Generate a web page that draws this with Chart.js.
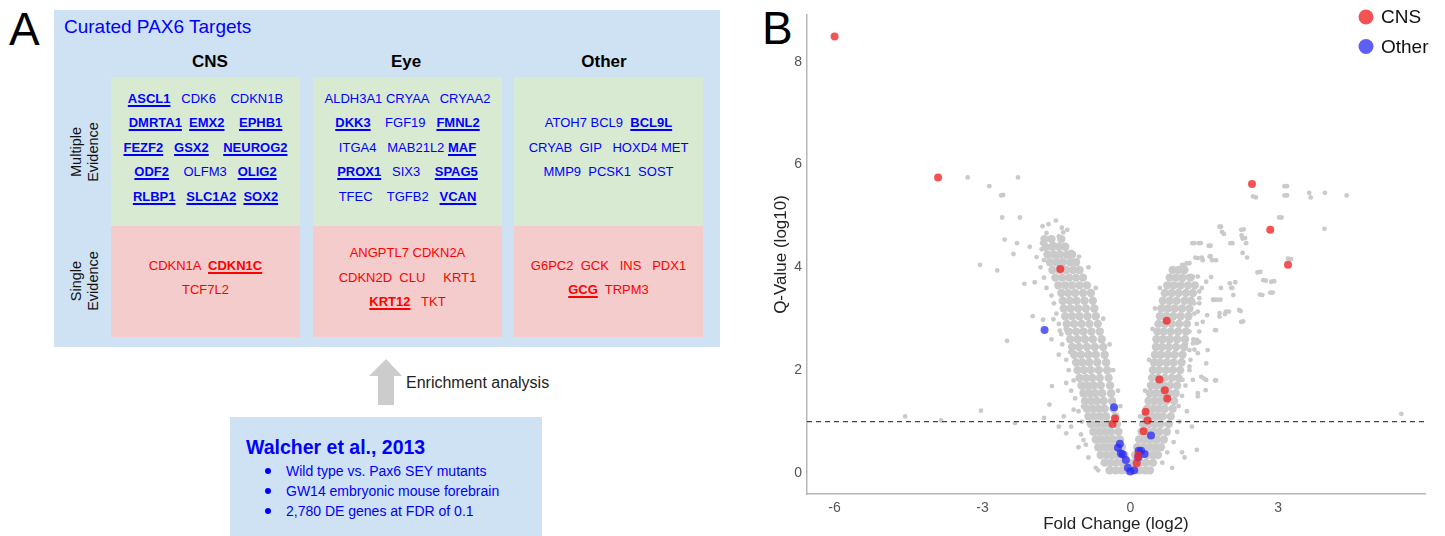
<!DOCTYPE html>
<html>
<head>
<meta charset="utf-8">
<script src="https://cdn.jsdelivr.net/npm/chart.js@4.4.1/dist/chart.umd.min.js"></script>
<style>
body { margin: 0; width: 1445px; height: 536px; position: relative; overflow: hidden; background: #fff;
       font-family: "Liberation Sans", Arial, sans-serif; }
.abs { position: absolute; }
.letter { font-size: 46px; line-height: 50px; color: #000; }
.blue { color: #0000ff; }
.red { color: #ff0000; }
.head { font-weight: bold; font-size: 17px; line-height: 20px; top: 52px; width: 120px; text-align: center; color: #000; }
.cell { display: flex; flex-direction: column; justify-content: center; align-items: center;
        box-sizing: border-box; padding-bottom: 7px; width: 189px; }
.cell div { font-size: 13px; line-height: 24.4px; white-space: pre; }
.cell b { text-decoration: underline; text-decoration-thickness: 1.5px; text-underline-offset: 2px; }
.green { background: #d9ead3; top: 77px; height: 149px; }
.pink { background: #f4cccc; top: 226px; height: 111px; }
.rowlab { font-size: 14.5px; line-height: 17px; text-align: center; color: #111; white-space: nowrap;
          transform: translate(-50%, -50%) rotate(-90deg); }
.bullet { left: 265px; width: 6px; height: 6px; border-radius: 50%; background: #0000ff; }
.btext { left: 286px; font-size: 14px; line-height: 18px; color: #0000ff; white-space: nowrap; }
</style>
</head>
<body>

<div class="abs letter" style="left:9px;top:4px;">A</div>
<div class="abs letter" style="left:762px;top:3px;">B</div>

<!-- panel A: curated targets -->
<div class="abs" style="left:54px;top:10px;width:666px;height:337px;background:#cfe2f3;"></div>
<div class="abs blue" style="left:64px;top:16px;font-size:19px;line-height:22px;">Curated PAX6 Targets</div>

<div class="abs head" style="left:150px;">CNS</div>
<div class="abs head" style="left:346px;">Eye</div>
<div class="abs head" style="left:544px;">Other</div>

<div class="abs rowlab" style="left:85px;top:152px;">Multiple<br>Evidence</div>
<div class="abs rowlab" style="left:85px;top:281px;">Single<br>Evidence</div>

<div id="cells"></div>

<svg class="abs" style="left:0;top:0;" width="720" height="536">
  <polygon points="386,359 369,376 378,376 378,405 394,405 394,376 402,376" fill="#cccccc"/>
</svg>
<div class="abs" style="left:406px;top:373px;font-size:16px;line-height:20px;color:#222;">Enrichment analysis</div>

<div class="abs" style="left:230px;top:417px;width:312px;height:119px;background:#cfe2f3;"></div>
<div class="abs blue" style="left:246px;top:435px;font-size:19.5px;line-height:24px;font-weight:bold;">Walcher et al., 2013</div>
<div id="bullets"></div>

<!-- panel B: volcano plot -->
<canvas id="volcano" class="abs" style="left:760px;top:0;" width="685" height="536"></canvas>

<script>
// ---- panel A text ----
// **word** = bold + underlined
const cnsMultiple = ["**ASCL1**   CDK6    CDKN1B", "**DMRTA1**  **EMX2**    **EPHB1**", "**FEZF2**   **GSX2**    **NEUROG2**",
                     "**ODF2**    OLFM3   **OLIG2**", "**RLBP1**   **SLC1A2**  **SOX2**"];
const eyeMultiple = ["ALDH3A1 CRYAA   CRYAA2", "**DKK3**    FGF19   **FMNL2**", "ITGA4   MAB21L2 **MAF**",
                     "**PROX1**   SIX3    **SPAG5**", "TFEC    TGFB2   **VCAN**"];
const otherMultiple = ["ATOH7 BCL9  **BCL9L**", "CRYAB  GIP   HOXD4 MET", "MMP9  PCSK1  SOST"];
const cnsSingle = ["CDKN1A  **CDKN1C**", "TCF7L2"];
const eyeSingle = ["ANGPTL7 CDKN2A", "CDKN2D  CLU     KRT1", "**KRT12**   TKT"];
const otherSingle = ["G6PC2  GCK   INS   PDX1", "**GCG**  TRPM3"];
const studyNotes = ["Wild type vs. Pax6 SEY mutants", "GW14 embryonic mouse forebrain", "2,780 DE genes at FDR of 0.1"];

// ---- panel B values ----
const xTicks = [-6, -3, 0, 3];
const yTicks = [0, 2, 4, 6, 8];
const qCutoff = 1;

const cnsGenes = [[-6.0, 8.49], [-3.9, 5.75], [-1.42, 3.97], [2.47, 5.62], [2.84, 4.73], [3.2, 4.05],
  [0.74, 2.96], [0.59, 1.82], [0.70, 1.61], [0.75, 1.45], [0.31, 1.19], [0.35, 1.02], [0.27, 0.81],
  [-0.31, 1.06], [-0.36, 0.95], [0.16, 0.34], [0.13, 0.19]];

const otherGenes = [[-1.74, 2.78], [-0.33, 1.28], [0.42, 0.73], [-0.21, 0.57], [-0.25, 0.49], [-0.19, 0.38],
  [-0.15, 0.36], [-0.09, 0.25], [-0.05, 0.10], [0.0, 0.03], [0.08, 0.05], [0.17, 0.43], [0.22, 0.43],
  [0.29, 0.37], [0.16, 0.30]];

// dense V of all genes, one row per q-value level: [q, [fold changes]]
const coreRows = [
  [0.05, [-0.42, -0.3, -0.18, -0.06, 0.06, 0.18, 0.3, 0.4]],
  [0.2, [-0.52, -0.4, -0.28, -0.16, -0.04, 0.08, 0.2, 0.32, 0.46]],
  [0.35, [-0.6, -0.48, -0.36, -0.24, -0.12, 0.1, 0.22, 0.34, 0.46, 0.56]],
  [0.5, [-0.65, -0.53, -0.41, -0.29, -0.17, 0.14, 0.26, 0.38, 0.5, 0.62]],
  [0.65, [-0.7, -0.58, -0.46, -0.34, -0.21, 0.18, 0.3, 0.42, 0.54, 0.68]],
  [0.8, [-0.75, -0.63, -0.51, -0.39, -0.24, 0.23, 0.35, 0.47, 0.59, 0.74]],
  [0.95, [-0.8, -0.68, -0.56, -0.44, -0.27, 0.26, 0.38, 0.5, 0.62, 0.78]],
  [1.1, [-0.85, -0.73, -0.61, -0.49, -0.3, 0.3, 0.42, 0.54, 0.66, 0.82]],
  [1.25, [-0.88, -0.76, -0.64, -0.52, -0.34, 0.34, 0.46, 0.58, 0.7, 0.86]],
  [1.4, [-0.92, -0.8, -0.68, -0.54, -0.37, 0.37, 0.49, 0.61, 0.73, 0.89]],
  [1.55, [-0.95, -0.83, -0.71, -0.57, -0.39, 0.4, 0.52, 0.64, 0.78, 0.92]],
  [1.7, [-0.99, -0.87, -0.74, -0.6, -0.41, 0.42, 0.54, 0.66, 0.8, 0.95]],
  [1.85, [-1.03, -0.9, -0.77, -0.62, -0.44, 0.44, 0.56, 0.7, 0.84, 0.98]],
  [2.0, [-1.07, -0.94, -0.8, -0.64, -0.47, 0.46, 0.58, 0.72, 0.86, 1.01]],
  [2.15, [-1.1, -0.97, -0.83, -0.67, -0.49, 0.48, 0.6, 0.74, 0.88, 1.04]],
  [2.3, [-1.14, -1.0, -0.85, -0.7, -0.52, 0.5, 0.62, 0.76, 0.9, 1.06]],
  [2.45, [-1.18, -1.04, -0.88, -0.72, -0.55, 0.52, 0.64, 0.78, 0.93, 1.09]],
  [2.6, [-1.22, -1.07, -0.92, -0.76, -0.58, 0.53, 0.66, 0.8, 0.95, 1.11]],
  [2.75, [-1.25, -1.1, -0.95, -0.79, -0.62, 0.55, 0.68, 0.82, 0.97, 1.13]],
  [2.9, [-1.29, -1.14, -0.99, -0.83, -0.66, 0.57, 0.7, 0.84, 0.99, 1.15]],
  [3.05, [-1.32, -1.18, -1.03, -0.87, -0.7, 0.6, 0.73, 0.87, 1.02, 1.18]],
  [3.2, [-1.35, -1.21, -1.06, -0.9, -0.73, 0.63, 0.76, 0.9, 1.05, 1.2]],
  [3.35, [-1.37, -1.23, -1.09, -0.93, -0.76, 0.66, 0.8, 0.94, 1.1, 1.23]],
  [3.5, [-1.4, -1.26, -1.12, -0.96, -0.8, 0.7, 0.84, 0.98, 1.13, 1.27]],
  [3.65, [-1.46, -1.32, -1.18, -1.03, -0.88, 0.75, 0.88, 1.02, 1.17, 1.31]],
  [3.8, [-1.52, -1.38, -1.24, -1.1, -0.96, 0.8, 0.93, 1.06, 1.22]],
  [3.95, [-1.58, -1.44, -1.3, -1.16, -1.03, 0.86, 0.98, 1.1]],
  [4.1, [-1.63, -1.5, -1.37, -1.22, -1.1]],
  [4.25, [-1.68, -1.55, -1.42, -1.28, -1.18]],
  [4.4, [-1.72, -1.58, -1.45, -1.32]],
  [4.55, [-1.74, -1.6, -1.4]]
];

// sparser genes around and away from the V
const scatterGenes = [
  [-0.85, 0.3], [-0.9, 0.55], [-1.0, 0.75], [-0.98, 1.0], [-1.05, 1.2], [-1.12, 1.45], [-1.2, 1.6], [-1.15, 1.8],
  [-1.25, 2.0], [-1.3, 2.2], [-1.22, 2.35], [-1.38, 2.5], [-1.4, 2.7], [-1.45, 2.9], [-1.5, 3.1], [-1.55, 3.3],
  [-1.6, 3.45], [-1.7, 3.6], [-1.75, 3.8], [-1.82, 4.0], [-1.9, 4.2], [-1.8, 4.35], [-1.05, 0.5], [-0.7, 0.1],
  [-0.65, 0.05], [-1.2, 0.9], [-1.35, 1.1], [-1.3, 1.75], [-1.45, 2.3], [-1.6, 2.6],
  [-0.2, 1.3], [-0.25, 1.6], [-0.35, 2.0], [-0.42, 2.5], [-0.55, 3.0], [-0.7, 3.6], [-0.85, 4.0],
  [0.3, 1.6], [0.38, 2.2], [0.45, 2.8], [0.5, 3.2], [0.6, 3.6], [0.2, 1.1],
  [0.65, 0.2], [0.75, 0.4], [0.88, 0.6], [0.95, 0.8], [1.0, 1.0], [0.98, 1.3], [1.05, 1.5], [1.12, 1.7],
  [1.2, 2.0], [1.22, 2.2], [1.3, 2.4], [1.28, 2.6], [1.35, 2.9], [1.3, 3.1], [1.4, 3.4], [1.45, 3.6],
  [0.85, 0.1], [1.15, 1.2], [1.1, 0.3], [1.25, 0.9],
  [-3.3, 5.75], [-2.28, 5.75], [-2.86, 5.58], [-2.62, 5.4], [-2.58, 5.41], [-2.6, 4.97], [-2.24, 4.97],
  [-2.55, 4.54], [-2.3, 4.47], [-2.04, 4.4], [-2.37, 4.26], [-3.05, 4.05], [-2.7, 3.94],
  [-1.78, 4.8], [-1.66, 4.84], [-1.51, 4.91], [-1.39, 4.77], [-1.28, 4.73], [-1.7, 4.67], [-1.79, 4.47],
  [-1.66, 4.38], [-1.39, 4.53], [-1.31, 4.4], [-1.48, 4.21], [-1.31, 4.21], [-1.04, 4.21], [-1.08, 4.08],
  [-1.75, 4.14], [-1.36, 4.68], [-1.2, 4.3], [-1.55, 4.45], [-1.45, 4.6],
  [-2.15, 3.68], [-1.94, 3.71], [-1.98, 3.05], [-1.77, 2.98], [-1.56, 2.99], [-1.43, 2.77], [-1.31, 2.8],
  [-2.5, 2.57], [-1.59, 1.69], [-1.64, 1.33], [-3.03, 1.21], [-4.57, 1.1], [-3.84, 1.02], [-2.34, 0.97],
  [-1.75, 1.07], [-1.15, 1.23], [-1.45, 0.9], [-0.95, 0.64], [-1.3, 0.77], [-0.96, 1.29], [-0.84, 1.61],
  [-0.64, 0.8], [-0.5, 0.19], [-0.41, 0.12],
  [1.3, 4.47], [1.43, 4.47], [1.63, 4.42], [1.84, 4.79], [1.9, 4.65], [2.3, 4.74], [2.33, 4.57], [2.35, 4.47],
  [2.07, 4.47], [2.37, 4.19], [2.55, 5.36], [3.18, 5.58], [3.18, 5.4], [3.07, 4.97], [3.26, 4.16], [2.64, 3.91],
  [2.75, 3.74], [2.92, 3.73], [2.68, 3.46], [2.89, 3.51], [2.29, 2.95], [2.24, 3.15], [2.13, 3.71], [2.09, 3.46],
  [2.07, 3.6], [1.84, 3.6], [1.83, 3.37], [1.71, 3.37], [2.0, 3.14], [1.92, 3.09], [1.81, 3.04], [1.74, 2.78],
  [1.47, 2.94], [1.4, 3.3], [1.3, 3.3], [1.4, 3.53], [1.54, 3.72], [1.64, 3.81], [1.47, 4.14], [1.61, 4.21],
  [1.74, 4.14], [1.37, 4.18], [1.2, 4.08], [1.1, 4.05], [1.37, 3.82], [1.27, 3.82], [1.17, 3.82], [1.06, 3.75],
  [1.4, 2.75], [1.2, 2.75], [1.13, 2.52], [1.27, 2.52], [1.4, 2.55], [1.57, 2.39], [1.2, 2.39], [1.37, 2.33],
  [1.54, 2.13], [1.2, 2.07], [1.0, 1.81], [1.06, 1.81], [1.27, 1.81], [1.44, 1.87], [1.54, 1.81], [1.74, 1.8],
  [1.05, 0.4], [1.35, 0.45], [1.37, 1.55], [1.37, 1.49], [1.53, 1.61], [1.72, 1.8], [1.49, 1.84], [1.1, 2.43],
  [1.35, 2.59], [1.35, 2.53], [1.37, 3.14], [1.56, 3.07], [1.81, 3.11], [1.94, 3.14], [2.21, 3.17], [2.25, 2.94],
  [1.72, 2.78], [2.02, 3.69], [2.05, 3.6], [1.68, 3.37], [1.76, 3.37], [2.58, 3.9], [2.7, 3.75], [2.86, 3.72],
  [2.63, 3.47], [2.84, 3.51], [5.5, 1.15],
  [3.13, 5.58], [3.13, 5.4], [3.63, 5.45], [3.66, 5.36], [3.95, 5.45], [4.39, 5.4], [3.02, 4.97], [3.94, 4.75],
  [3.2, 4.17], [2.49, 5.38], [1.81, 4.79], [1.86, 4.69], [2.25, 4.73], [2.26, 4.62], [2.28, 4.56], [2.28, 4.28],
  [2.03, 4.47], [1.59, 4.42], [1.39, 4.47], [1.26, 4.47], [1.32, 4.19], [1.45, 4.19], [1.63, 4.22], [1.66, 4.14],
  [1.05, 4.05], [1.15, 4.08]
];


// build the gene boxes of panel A
function rowHtml(row, cls) {
    const html = row.replace(/\*\*(.+?)\*\*/g, "<b>$1</b>");
    return `<div class="${cls}">${html}</div>`;
}
const cellSpecs = [
    { rows: cnsMultiple, left: 111, kind: "green", cls: "blue" },
    { rows: eyeMultiple, left: 313, kind: "green", cls: "blue" },
    { rows: otherMultiple, left: 514, kind: "green", cls: "blue" },
    { rows: cnsSingle, left: 111, kind: "pink", cls: "red" },
    { rows: eyeSingle, left: 313, kind: "pink", cls: "red" },
    { rows: otherSingle, left: 514, kind: "pink", cls: "red" },
];
document.getElementById("cells").innerHTML = cellSpecs.map(c =>
    `<div class="abs cell ${c.kind}" style="left:${c.left}px;">${c.rows.map(r => rowHtml(r, c.cls)).join("")}</div>`
).join("");

document.getElementById("bullets").innerHTML = studyNotes.map((t, i) => {
    const cy = 471 + i * 20.2;
    return `<div class="abs bullet" style="top:${cy - 3}px;"></div><div class="abs btext" style="top:${cy - 9}px;">${t}</div>`;
}).join("");


// ---- volcano plot ----
const toXY = p => ({ x: p[0], y: p[1] });
const coreGenes = coreRows.flatMap(([q, fcs]) => fcs.map(fc => ({ x: fc, y: q })));
const fontFamily = '"Liberation Sans", Arial, sans-serif';

const cutoffPlugin = {
    id: 'q_cutoff_line',
    afterDatasetsDraw: (chart) => {
        const ctx = chart.ctx;
        const area = chart.chartArea;
        const y = chart.scales.y.getPixelForValue(qCutoff);
        ctx.save();
        ctx.strokeStyle = '#444444';
        ctx.lineWidth = 1.3;
        ctx.setLineDash([5, 4]);
        ctx.beginPath();
        ctx.moveTo(area.left, y);
        ctx.lineTo(area.right, y);
        ctx.stroke();
        ctx.restore();
    }
};

// legend sits inside the plot, top right
const cornerLegend = {
    id: 'corner_legend',
    afterDraw: (chart) => {
        const ctx = chart.ctx;
        const entries = chart.data.datasets.filter(d => d.inLegend);
        entries.forEach((d, i) => {
            const y = 17 + i * 29.5;
            ctx.save();
            ctx.fillStyle = d.backgroundColor;
            ctx.beginPath();
            ctx.arc(606, y, 7.5, 0, Math.PI * 2);
            ctx.fill();
            ctx.fillStyle = '#111111';
            ctx.font = `19px ${fontFamily}`;
            ctx.textBaseline = 'middle';
            ctx.fillText(d.label, 621, y + 1);
            ctx.restore();
        });
    }
};

new Chart(document.getElementById('volcano'), {
    type: 'scatter',
    data: {
        datasets: [
            { label: 'CNS', inLegend: true, data: cnsGenes.map(toXY), backgroundColor: 'rgba(242,40,40,0.8)',
              borderWidth: 0, pointRadius: 4 },
            { label: 'Other', inLegend: true, data: otherGenes.map(toXY), backgroundColor: 'rgba(40,40,245,0.75)',
              borderWidth: 0, pointRadius: 4 },
            { label: 'core', data: coreGenes, backgroundColor: '#cacaca', borderWidth: 0, pointRadius: 4.2 },
            { label: 'scatter', data: scatterGenes.map(toXY), backgroundColor: '#cacaca', borderWidth: 0, pointRadius: 2.4 },
        ]
    },
    options: {
        responsive: false,
        animation: false,
        devicePixelRatio: 1,
        events: [],
        layout: { padding: { top: 15, right: 20, left: 0, bottom: 0 } },
        plugins: { legend: { display: false }, tooltip: { enabled: false } },
        scales: {
            x: {
                type: 'linear', min: -6.56, max: 5.98,
                grid: { display: false, drawTicks: false },
                border: { color: '#b8b8b8', width: 1.5 },
                afterBuildTicks: (scale) => { scale.ticks = xTicks.map(v => ({ value: v })); },
                afterFit: (scale) => { scale.height = 42; },
                ticks: { color: '#555555', padding: 6, font: { size: 14, family: fontFamily } },
                title: { display: true, text: 'Fold Change (log2)', color: '#222222',
                         padding: { top: 2, bottom: 1 }, font: { size: 17, family: fontFamily } }
            },
            y: {
                type: 'linear', min: -0.41, max: 8.91,
                grid: { display: false, drawTicks: false },
                border: { color: '#b8b8b8', width: 1.5 },
                afterBuildTicks: (scale) => { scale.ticks = yTicks.map(v => ({ value: v })); },
                afterFit: (scale) => { scale.width = 47; },
                ticks: { color: '#555555', padding: 5, font: { size: 14, family: fontFamily } },
                title: { display: true, text: 'Q-Value (log10)', color: '#222222',
                         padding: { top: 11, bottom: 11 }, font: { size: 17, family: fontFamily } }
            }
        }
    },
    plugins: [cutoffPlugin, cornerLegend],
});
</script>
</body>
</html>
